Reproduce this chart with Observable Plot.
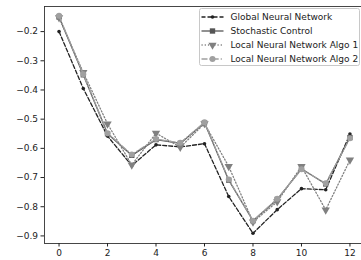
<!DOCTYPE html>
<html>
<head>
<meta charset="utf-8">
<script src="https://cdn.jsdelivr.net/npm/d3@7"></script>
<script src="https://cdn.jsdelivr.net/npm/@observablehq/plot@0.6"></script>
<style>
  html, body { margin: 0; padding: 0; background: #fff; }
  #chart { position: relative; width: 361px; height: 260px; overflow: hidden; }
  svg { font-family: "DejaVu Sans", sans-serif; }
</style>
</head>
<body>
<div id="chart"></div>
<script>
const steps = [0, 1, 2, 3, 4, 5, 6, 7, 8, 9, 10, 11, 12];
const seriesNames = ["Global Neural Network", "Stochastic Control", "Local Neural Network Algo 1", "Local Neural Network Algo 2"];
const globalNN   = [-0.200, -0.395, -0.558, -0.659, -0.588, -0.595, -0.584, -0.765, -0.891, -0.810, -0.738, -0.742, -0.551];
const stochastic = [-0.150, -0.348, -0.550, -0.624, -0.570, -0.583, -0.512, -0.709, -0.848, -0.775, -0.670, -0.722, -0.563];
const localAlgo1 = [-0.152, -0.340, -0.516, -0.657, -0.548, -0.596, -0.515, -0.662, -0.852, -0.783, -0.662, -0.811, -0.640];
const localAlgo2 = [-0.146, -0.346, -0.548, -0.621, -0.568, -0.581, -0.511, -0.707, -0.848, -0.773, -0.672, -0.720, -0.565];
const xTicks = [0, 2, 4, 6, 8, 10, 12];
const yTicks = [-0.2, -0.3, -0.4, -0.5, -0.6, -0.7, -0.8, -0.9];

const styles = [
  {color: "#222222", dash: "4,2", width: 1.3, symbol: "circle", r: 1.8, rotate: 0},
  {color: "#555555", dash: null, width: 1.3, symbol: "square", r: 3.0, rotate: 0},
  {color: "#808080", dash: "1.2,2", width: 1.3, symbol: "triangle", r: 3.1, rotate: 180},
  {color: "#a0a0a0", dash: "6,2,1.2,2", width: 1.3, symbol: "circle", r: 3.0, rotate: 0}
];
const values = [globalNN, stochastic, localAlgo1, localAlgo2];
const tables = values.map((vals, i) => steps.map((s, j) => ({x: s, y: vals[j], series: seriesNames[i]})));

const marks = [];
tables.forEach((t, i) => {
  const st = styles[i];
  marks.push(Plot.line(t, {x: "x", y: "y", stroke: st.color, strokeWidth: st.width, strokeDasharray: st.dash}));
  marks.push(Plot.dot(t, {x: "x", y: "y", symbol: st.symbol, r: st.r, fill: st.color, stroke: "none", rotate: st.rotate}));
});

const fmtY = d => d3.format(".1f")(d).replace("-", "\u2212");
const chart = Plot.plot({
  width: 361,
  height: 260,
  marginLeft: 44,
  marginTop: 6,
  marginBottom: 17,
  marginRight: -3,
  style: {fontFamily: "DejaVu Sans, sans-serif", fontSize: "9px", color: "#222", background: "#fff"},
  x: {domain: [-0.6, 12.6], label: null},
  y: {domain: [-0.926, -0.114], label: null},
  marks: [
    ...marks,
    Plot.frame({stroke: "#333", strokeWidth: 0.9}),
    Plot.axisX({ticks: xTicks, tickSize: 3.5, tickPadding: 3, fontSize: 9, tickFormat: d3.format("d"), label: null}),
    Plot.axisY({ticks: yTicks, tickSize: 3.5, tickPadding: 3, fontSize: 9, tickFormat: fmtY, label: null})
  ]
});
document.getElementById("chart").appendChild(chart);

// Legend (matplotlib style box)
const svg = d3.select(chart);
const lg = svg.append("g").attr("transform", "translate(199.5,8.5)").attr("text-anchor", "start");
lg.append("rect").attr("width", 160).attr("height", 57).attr("rx", 2)
  .attr("fill", "#ffffff").attr("fill-opacity", 0.85).attr("stroke", "#c8c8c8").attr("stroke-width", 1);
seriesNames.forEach((name, i) => {
  const st = styles[i];
  const yy = 8.5 + i * 14;
  const ln = lg.append("line").attr("x1", 2).attr("x2", 24).attr("y1", yy).attr("y2", yy)
    .attr("stroke", st.color).attr("stroke-width", st.width);
  if (st.dash) ln.attr("stroke-dasharray", st.dash);
  const sym = d3.symbol().type(st.symbol === "square" ? d3.symbolSquare : st.symbol === "triangle" ? d3.symbolTriangle : d3.symbolCircle)
    .size(st.symbol === "circle" ? Math.PI * st.r * st.r : st.symbol === "square" ? (st.r * 2) * (st.r * 2) * 0.8 : st.r * st.r * 3);
  lg.append("path").attr("d", sym()).attr("fill", st.color)
    .attr("transform", `translate(13,${yy}) rotate(${st.rotate})`);
  lg.append("text").attr("x", 31).attr("y", yy).attr("dy", "0.35em").attr("text-anchor", "start")
    .attr("font-size", 9).attr("fill", "#222").text(name);
});
</script>
</body>
</html>
